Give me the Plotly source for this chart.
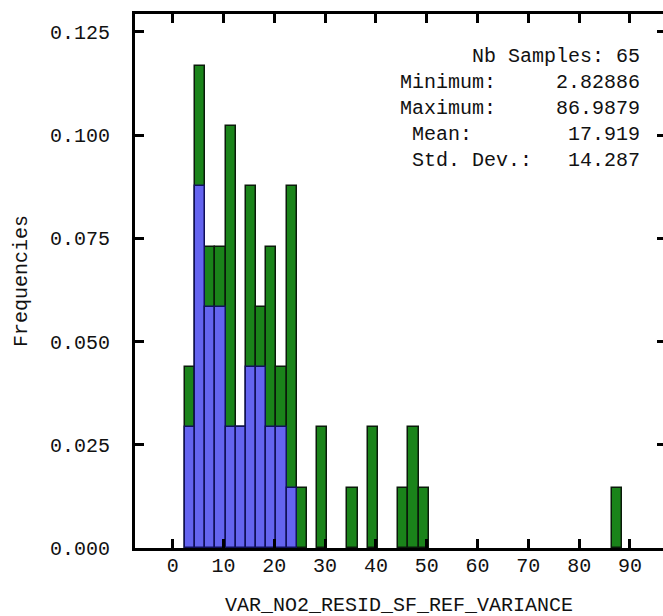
import numpy as np
import plotly.graph_objects as go

# Histogram bins: 2-unit wide classes starting at 2.4
bin_start = 2.4
bin_width = 2.0

# Frequencies of the whole sample (green) per bin index
all_bins = [0, 1, 2, 3, 4, 5, 6, 7, 8, 9, 10, 11, 13, 16, 18, 21, 22, 23, 42]
all_freq = [0.0438, 0.1168, 0.0730, 0.0730, 0.1022, 0.0292, 0.0876, 0.0584,
            0.0730, 0.0438, 0.0876, 0.0146, 0.0292, 0.0146, 0.0292, 0.0146,
            0.0292, 0.0146, 0.0146]

# Frequencies of the selected subset (blue) per bin index
sel_bins = [0, 1, 2, 3, 4, 5, 6, 7, 8, 9, 10]
sel_freq = [0.0292, 0.0876, 0.0584, 0.0584, 0.0292, 0.0292, 0.0438, 0.0438,
            0.0292, 0.0292, 0.0146]

# Summary statistics shown in the corner
stat_labels = ["Minimum:", "Maximum:", " Mean:", " Std. Dev.:"]
stat_values = ["2.82886", "86.9879", "17.919", "14.287"]
n_samples = 65

x_ticks = [0, 10, 20, 30, 40, 50, 60, 70, 80, 90]
y_ticks = [0.0, 0.025, 0.05, 0.075, 0.1, 0.125]

x_title = "VAR_NO2_RESID_SF_REF_VARIANCE"
y_title = "Frequencies"

FONT = "Liberation Mono"
FS = 20


def centers(idx):
    return bin_start + (np.asarray(idx) + 0.5) * bin_width


fig = go.Figure()
fig.add_trace(go.Bar(
    x=centers(all_bins), y=all_freq, width=bin_width,
    marker=dict(color="#1a841a", line=dict(color="#0a1a0a", width=1.5)),
    showlegend=False, hoverinfo="skip",
))
fig.add_trace(go.Bar(
    x=centers(sel_bins), y=sel_freq, width=bin_width,
    marker=dict(color="#6464f0", line=dict(color="#10105a", width=1.5)),
    showlegend=False, hoverinfo="skip",
))
# empty trace so the right-hand tick axis is drawn
fig.add_trace(go.Scatter(x=[], y=[], yaxis="y2", showlegend=False))

y_range = [0, 0.1293]
x_range = [-7.42, 96.5]

fig.update_layout(
    width=663, height=616,
    margin=dict(l=135, r=0, t=14, b=68),
    paper_bgcolor="white", plot_bgcolor="white",
    barmode="overlay", bargap=0,
    font=dict(family=FONT, size=FS, color="#111111"),
    xaxis=dict(
        range=x_range, tickvals=x_ticks, ticktext=[str(v) for v in x_ticks],
        ticks="inside", ticklen=9, tickwidth=2.5, tickcolor="black",
        showline=True, linewidth=3, linecolor="black", mirror="ticks",
        showgrid=False, zeroline=False, ticklabelstandoff=-3,
    ),
    yaxis=dict(
        range=y_range, tickvals=y_ticks, tickformat=".3f",
        ticks="inside", ticklen=9, tickwidth=2.5, tickcolor="black",
        showline=True, linewidth=3, linecolor="black", mirror=False,
        showgrid=False, zeroline=False, ticklabelstandoff=18,
    ),
    yaxis2=dict(
        range=y_range, tickvals=y_ticks, overlaying="y", side="right",
        ticks="inside", ticklen=6, tickwidth=2.5, tickcolor="black",
        showticklabels=False, showline=False, showgrid=False, zeroline=False,
    ),
)

# statistics block, monospace rows padded to a common width
width_chars = 20
rows = ["Nb Samples: %d" % n_samples]
for lab, val in zip(stat_labels, stat_values):
    rows.append(lab + " " * (width_chars - len(lab) - len(val)) + val)
rows = [r.replace(" ", "\u00a0") for r in rows]
fig.add_annotation(
    text="<br>".join(rows), xref="paper", yref="paper",
    x=0.96, y=0.945, xanchor="right", yanchor="top", align="right",
    showarrow=False, font=dict(family=FONT, size=FS, color="#111111"),
)

fig.add_annotation(
    text=x_title, xref="paper", yref="paper", x=0.5, y=0,
    xanchor="center", yanchor="middle", yshift=-57, showarrow=False,
    font=dict(family=FONT, size=FS, color="#111111"),
)
fig.add_annotation(
    text=y_title, xref="paper", yref="paper", x=0, y=0.5,
    xanchor="center", yanchor="middle", xshift=-114, textangle=-90,
    showarrow=False, font=dict(family=FONT, size=FS, color="#111111"),
)

fig.write_html("out.html")
